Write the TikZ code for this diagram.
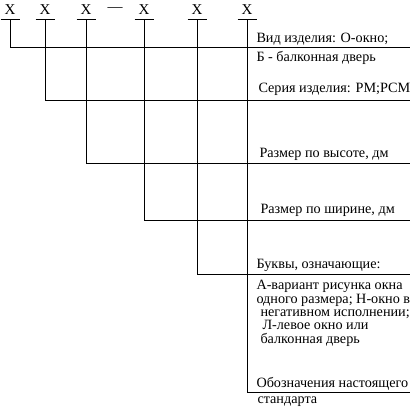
\documentclass[tikz,border=0pt]{standalone}
\usepackage{fontspec}
\setmainfont{Liberation Serif}

\begin{document}
\begin{tikzpicture}[x=1pt,y=-1pt,line width=1pt,
    sym/.style={minimum width=18pt,minimum height=18pt,inner sep=0pt,font=\fontsize{15}{16}\selectfont},
    txt/.style={anchor=base west,inner sep=0pt,font=\fontsize{14.2}{15}\selectfont}]
   \useasboundingbox (0,0) rectangle (410,411);
   % code symbols
   \node[sym] (x1) at (10,10) {X};
   \node[sym] (x2) at (45,10) {X};
   \node[sym] (x3) at (86,10) {X};
   \node[sym] (dash) at (115,10) {---};
   \node[sym] (x4) at (144,10) {X};
   \node[sym] (x5) at (197,10) {X};
   \node[sym] (x6) at (247,10) {X};

   % right ends of the leader lines
   \coordinate (e1) at (410,48);
   \coordinate (e2) at (410,101);
   \coordinate (e3) at (410,164);
   \coordinate (e4) at (410,220);
   \coordinate (e5) at (410,274);
   \coordinate (e6) at (410,392);

   % explanations
   \node[txt] (t1) at (256,43) {Вид изделия: О-окно;};
   \node[txt] (t2) at (256,62) {Б - балконная дверь};
   \node[txt] (t3) at (258,93) {Серия изделия: РМ;РСМ};
   \node[txt] (t4) at (259,158) {Размер по высоте, дм};
   \node[txt] (t5) at (260,214) {Размер по ширине, дм};
   \node[txt] (t6) at (256,268) {Буквы, означающие:};
   \node[txt] (t7) at (256,289) {А-вариант рисунка окна};
   \node[txt] (t8) at (256,303) {одного размера; Н-окно в};
   \node[txt] (t9) at (260,316) {негативном исполнении;};
   \node[txt] (t10) at (262,329) {Л-левое окно или};
   \node[txt] (t11) at (260,343) {балконная дверь};
   \node[txt] (t12) at (256,387) {Обозначения настоящего};
   \node[txt] (t13) at (257,403) {стандарта};

   \foreach \i in {1,...,6}
     \draw (x\i.south west) -- (x\i.south east);
   \foreach \i in {1,...,6}
     \draw (x\i.south) |- (e\i);

\end{tikzpicture}
\end{document}
